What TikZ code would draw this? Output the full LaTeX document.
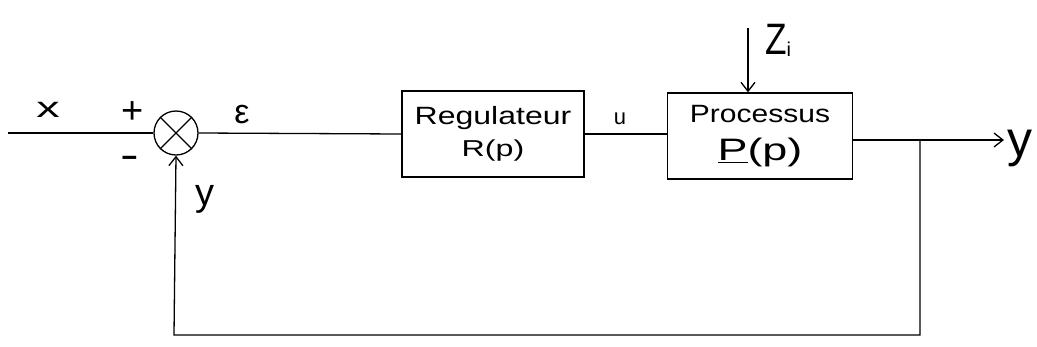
\documentclass[tikz,border=0pt]{standalone}
\usepackage{fontspec}
\usepackage{graphicx}
\setmainfont{Liberation Sans}
\usetikzlibrary{arrows.meta}
\newcommand{\fs}[1]{\fontsize{#1}{#1}\selectfont}
\begin{document}
\begin{tikzpicture}[x=1pt,y=-1pt,
  wire/.style={line width=1.3pt},
  sig/.style={wire,-{Straight Barb[length=9pt,width=14pt,line width=1.3pt]}},
  blockbox/.style={draw,line width=1.3pt,minimum width=#1,minimum height=86pt,inner sep=0pt,align=center},
  lbl/.style={inner sep=0pt}]
\useasboundingbox (0,0) rectangle (1037,346);
\fill[white] (0,0) rectangle (1037,346);
% nodes
\coordinate (in) at (8,133);
\node[draw,circle,line width=1.3pt,minimum size=44pt,inner sep=0pt] (sum) at (176,133) {};
\draw[line width=1.3pt] (sum.south west) -- (sum.north east) (sum.north west) -- (sum.south east);
\node[blockbox=182pt] (reg) at (493,134) {\scalebox{1.28}[1]{\fs{25}Regulateur}\\[9pt]\scalebox{1.4}[1]{\fs{23}R(p)}};
\node[blockbox=185pt] (proc) at (760,136) {\scalebox{1.2}[1]{\fs{25}Processus}\\[15pt]\scalebox{1.45}[1]{\fs{31}\underline{P}(p)}};
\coordinate (dist) at (748,28);
\coordinate (br) at (920,140);
\coordinate (out) at (1004,140);
\coordinate (bl) at (920,335);
\coordinate (fl) at (174,335);
% connectors
\draw[wire] (in) -- (sum.west);
\draw[wire] (sum.east) -- (reg.west);
\draw[wire] (reg.east) -- (proc.west |- reg.east);
\draw[sig] (dist) -- (proc.north -| dist);
\draw[sig] (proc.east |- br) -- (out);
\draw[sig] (br) -- (bl) -- (fl) -- (sum.south);
% labels
\node[lbl] (lx) at (48,110) {\scalebox{1.3}[0.8]{\fs{36}x}};
\node[lbl] (lplus) at (133,113) {\fs{38}+};
\node[lbl] (lminus) at (130,162) {\scalebox{1.4}[1]{\fs{40}-}};
\node[lbl] (leps) at (242,115) {\fs{34}ε};
\node[lbl] (lu) at (620,119) {\fs{22}u};
\node[lbl] (lz) at (778,40) {\scalebox{0.8}[1]{\fs{44}Z}\raisebox{-2pt}{\fs{20}i}};
\node[lbl] (ly) at (1020,148) {\fs{50}y};
\node[lbl] (lyf) at (205,199) {\fs{38}y};
\end{tikzpicture}
\end{document}
